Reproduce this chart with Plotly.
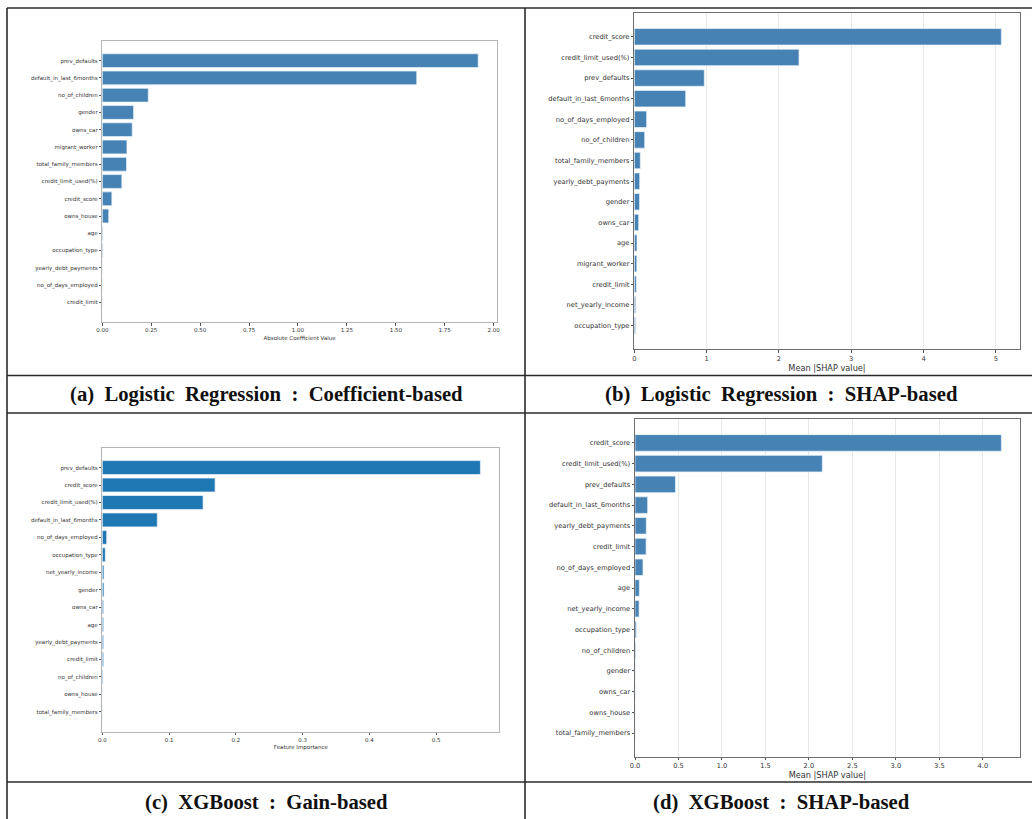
import plotly.graph_objects as go

W, H = 1032, 819

# ---- data: four feature-importance rankings (top to bottom) ----
lr_coef_features = ["prev_defaults", "default_in_last_6months", "no_of_children", "gender",
                    "owns_car", "migrant_worker", "total_family_members", "credit_limit_used(%)",
                    "credit_score", "owns_house", "age", "occupation_type",
                    "yearly_debt_payments", "no_of_days_employed", "credit_limit"]
lr_coef_values = [1.921, 1.607, 0.235, 0.160, 0.153, 0.126, 0.124, 0.100,
                  0.049, 0.033, 0.003, 0.003, 0.0005, 0.0003, 0.0002]

lr_shap_features = ["credit_score", "credit_limit_used(%)", "prev_defaults", "default_in_last_6months",
                    "no_of_days_employed", "no_of_children", "total_family_members",
                    "yearly_debt_payments", "gender", "owns_car", "age", "migrant_worker",
                    "credit_limit", "net_yearly_income", "occupation_type"]
lr_shap_values = [5.076, 2.278, 0.968, 0.711, 0.171, 0.144, 0.083, 0.075, 0.073,
                  0.061, 0.037, 0.035, 0.028, 0.020, 0.018]

xgb_gain_features = ["prev_defaults", "credit_score", "credit_limit_used(%)", "default_in_last_6months",
                     "no_of_days_employed", "occupation_type", "net_yearly_income", "gender",
                     "owns_car", "age", "yearly_debt_payments", "credit_limit",
                     "no_of_children", "owns_house", "total_family_members"]
xgb_gain_values = [0.5665, 0.169, 0.151, 0.0824, 0.0066, 0.0045, 0.0025, 0.0025,
                   0.002, 0.002, 0.002, 0.002, 0.001, 0.0, 0.0]

xgb_shap_features = ["credit_score", "credit_limit_used(%)", "prev_defaults", "default_in_last_6months",
                     "yearly_debt_payments", "credit_limit", "no_of_days_employed", "age",
                     "net_yearly_income", "occupation_type", "no_of_children", "gender",
                     "owns_car", "owns_house", "total_family_members"]
xgb_shap_values = [4.213, 2.154, 0.465, 0.146, 0.130, 0.128, 0.092, 0.050,
                   0.047, 0.015, 0.008, 0.001, 0.001, 0.0005, 0.0]

captions = ["(a)  Logistic  Regression  :  Coefficient-based",
            "(b)  Logistic  Regression  :  SHAP-based",
            "(c)  XGBoost  :  Gain-based",
            "(d)  XGBoost  :  SHAP-based"]
x_titles = ["Absolute Coefficient Value", "Mean |SHAP value|", "Feature Importance", "Mean |SHAP value|"]


def px_x(a, b):
    return [a / W, b / W]


def px_y(top, bottom):
    return [1 - bottom / H, 1 - top / H]


panels = [
    dict(feat=lr_coef_features, val=lr_coef_values, color="#4682b4",
         xd=px_x(102.3, 497.0), yd=px_y(41.0, 322.0), dtick=0.25, fmt=".2f",
         tick=5.5, title=5.5, standoff=4, spine="#b4b4b4", grid=False),
    dict(feat=lr_shap_features, val=lr_shap_values, color="#4682b4",
         xd=px_x(634.3, 1019.7), yd=px_y(13.3, 349.0), dtick=1, fmt="d",
         tick=6.7, title=8.2, standoff=2, spine="#6e6e6e", grid=True),
    dict(feat=xgb_gain_features, val=xgb_gain_values, color="#1f77b4",
         xd=px_x(102.3, 499.3), yd=px_y(447.7, 731.7), dtick=0.1, fmt=".1f",
         tick=5.5, title=5.5, standoff=3, spine="#b4b4b4", grid=False),
    dict(feat=xgb_shap_features, val=xgb_shap_values, color="#4682b4",
         xd=px_x(635.0, 1019.7), yd=px_y(419.3, 756.7), dtick=0.5, fmt=".1f",
         tick=6.7, title=8.2, standoff=2, spine="#6e6e6e", grid=True),
]

fig = go.Figure()
layout = {}
for i, p in enumerate(panels):
    k = "" if i == 0 else str(i + 1)
    n = len(p["feat"])
    fig.add_trace(go.Bar(
        x=p["val"], y=p["feat"], orientation="h", width=0.8,
        marker=dict(color=p["color"], line=dict(color="rgba(235,242,250,0.9)", width=0.8)),
        xaxis="x" + k, yaxis="y" + k, showlegend=False,
    ))
    xmax = max(p["val"]) * 1.05
    pad = 0.05 * (n - 1 + 0.8)
    layout["xaxis" + k] = dict(
        domain=p["xd"], anchor="y" + k, range=[0, xmax], automargin=False,
        dtick=p["dtick"], tick0=0, tickformat=p["fmt"],
        showgrid=p["grid"], gridcolor="#e8e8e8", gridwidth=0.8, zeroline=False,
        showline=True, mirror=True, linecolor=p["spine"], linewidth=1,
        ticks="outside", ticklen=2.5, tickcolor="#555", tickwidth=0.8,
        tickfont=dict(family="DejaVu Sans", size=p["tick"], color="#333"),
        title=dict(text=x_titles[i],
                   font=dict(family="DejaVu Sans", size=p["title"], color="#333"),
                   standoff=p["standoff"]),
        fixedrange=True,
    )
    layout["yaxis" + k] = dict(
        domain=p["yd"], anchor="x" + k, type="category", automargin=False,
        categoryorder="array", categoryarray=p["feat"],
        range=[n - 1 + 0.4 + pad, -0.4 - pad],
        showgrid=False, zeroline=False,
        showline=True, mirror=True, linecolor=p["spine"], linewidth=1,
        ticks="outside", ticklen=2.5, tickcolor="#555", tickwidth=0.8,
        tickfont=dict(family="DejaVu Sans", size=p["tick"], color="#333"),
        fixedrange=True,
    )

# ---- table grid around the four panels ----
line_col = "#2b2b2b"
shapes = []


def hline(y, x0=7, x1=W):
    shapes.append(dict(type="line", xref="paper", yref="paper",
                       x0=x0 / W, x1=x1 / W, y0=1 - y / H, y1=1 - y / H,
                       line=dict(color=line_col, width=1.6)))


def vline(x, y0=8, y1=H):
    shapes.append(dict(type="line", xref="paper", yref="paper",
                       x0=x / W, x1=x / W, y0=1 - y0 / H, y1=1 - y1 / H,
                       line=dict(color=line_col, width=1.6)))


hline(8)
hline(375.5)
hline(413)
hline(782)
vline(7)
vline(525)

annotations = []
cap_pos = [(266, 394.5), (781, 394.5), (266, 802), (781, 802)]
for (cx, cy), text in zip(cap_pos, captions):
    annotations.append(dict(
        text="<b>" + text.replace(" ", "\u00a0") + "</b>",
        xref="paper", yref="paper", x=cx / W, y=1 - cy / H,
        xanchor="center", yanchor="middle", showarrow=False,
        font=dict(family="Liberation Serif", size=20.7, color="#111"),
    ))

fig.update_layout(
    width=W, height=H, margin=dict(l=0, r=0, t=0, b=0, autoexpand=False),
    paper_bgcolor="white", plot_bgcolor="white",
    shapes=shapes, annotations=annotations, bargap=0.2,
    **layout,
)

fig.write_html("out.html", config={"displayModeBar": False})
